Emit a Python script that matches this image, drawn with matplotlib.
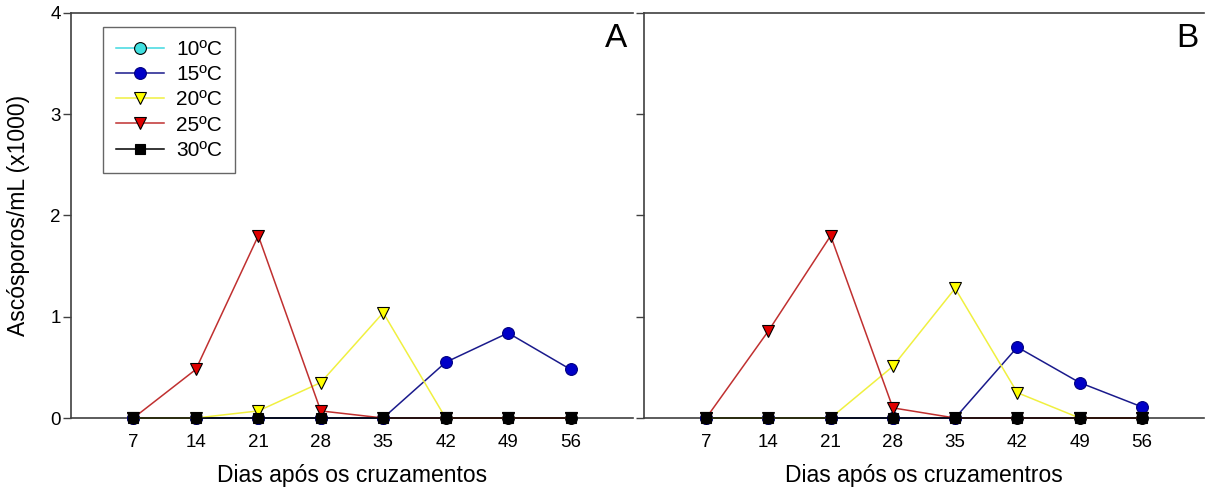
import matplotlib
matplotlib.use("Agg")
import matplotlib.pyplot as plt
from matplotlib.lines import Line2D

plt.rcParams['font.family'] = ['Liberation Sans', 'DejaVu Sans']

days = [7, 14, 21, 28, 35, 42, 49, 56]

# Panel A
a_10 = [0, 0, 0, 0, 0, 0, 0, 0]
a_15 = [0, 0, 0, 0, 0, 0.55, 0.84, 0.48]
a_20 = [0, 0, 0.07, 0.35, 1.04, 0, 0, 0]
a_25 = [0, 0.48, 1.80, 0.07, 0, 0, 0, 0]
a_30 = [0, 0, 0, 0, 0, 0, 0, 0]

# Panel B
b_10 = [0, 0, 0, 0, 0, 0, 0, 0]
b_15 = [0, 0, 0, 0, 0, 0.70, 0.35, 0.11]
b_20 = [0, 0, 0, 0.51, 1.28, 0.25, 0, 0]
b_25 = [0, 0.86, 1.80, 0.10, 0, 0, 0, 0]
b_30 = [0, 0, 0, 0, 0, 0, 0, 0]

series_labels = ['10ºC', '15ºC', '20ºC', '25ºC', '30ºC']
xlabels = ['Dias após os cruzamentos', 'Dias após os cruzamentros']
panel_tags = ['A', 'B']

styles = [
    dict(color='#40d8e0', marker='o', mfc='#40e0e0', mec='black'),
    dict(color='#1a1a8c', marker='o', mfc='#0000c8', mec='#000080'),
    dict(color='#f0f040', marker='v', mfc='#ffff00', mec='black'),
    dict(color='#c03030', marker='v', mfc='#e00000', mec='black'),
    dict(color='black', marker='s', mfc='black', mec='black'),
]

fig = plt.figure(figsize=(12.05, 4.92), dpi=100)
ax_a = fig.add_axes([0.0589, 0.1504, 0.4664, 0.8232])
ax_b = fig.add_axes([0.5344, 0.1504, 0.4648, 0.8232])

spine_col = '#404040'
for ax, data, xl, tag in [(ax_a, [a_10, a_15, a_20, a_25, a_30], xlabels[0], panel_tags[0]),
                          (ax_b, [b_10, b_15, b_20, b_25, b_30], xlabels[1], panel_tags[1])]:
    for vals, st, lab in zip(data, styles, series_labels):
        ax.plot(days, vals, color=st['color'], lw=1.1, marker=st['marker'],
                markersize=8.5 if st['marker'] != 's' else 7,
                markerfacecolor=st['mfc'], markeredgecolor=st['mec'],
                markeredgewidth=0.8, label=lab, clip_on=False, zorder=3)
    ax.set_xlim(0, 63)
    ax.set_ylim(0, 4)
    ax.set_xticks(days)
    ax.set_xticklabels([str(d) for d in days])
    ax.set_yticks([0, 1, 2, 3, 4])
    ax.tick_params(axis='x', length=0, pad=11.5, labelsize=13.5)
    ax.tick_params(axis='y', direction='out', length=6, width=1, color=spine_col,
                   labelsize=13.5, pad=1.5)
    ax.spines['right'].set_visible(False)
    for s in ['left', 'top', 'bottom']:
        ax.spines[s].set_color(spine_col)
        ax.spines[s].set_linewidth(1.2)
    ax.set_xlabel(xl, fontsize=16.5)
    ax.xaxis.set_label_coords(0.5, -0.1136)
    ax.text(0.9893, 0.916, tag, transform=ax.transAxes, ha='right',
            va='baseline', fontsize=24)

ax_b.tick_params(axis='y', labelleft=False)
ax_a.set_ylabel('Ascósporos/mL (x1000)', fontsize=16.5)
ax_a.yaxis.set_label_coords(-0.073, 0.5)

handles = [Line2D([0], [0], color=st['color'], lw=1.1, marker=st['marker'],
                  markersize=8.5 if st['marker'] != 's' else 7,
                  markerfacecolor=st['mfc'], markeredgecolor=st['mec'],
                  markeredgewidth=0.8) for st in styles]
leg = ax_a.legend(handles, series_labels, loc='upper left',
                  bbox_to_anchor=(0.0569, 0.9654), borderaxespad=0,
                  fontsize=15, frameon=True, fancybox=False,
                  edgecolor=spine_col, handlelength=2.3, handletextpad=0.6,
                  labelspacing=0.30, borderpad=0.62)
leg.get_frame().set_linewidth(1.0)

fig.savefig('out.png', dpi=100)
